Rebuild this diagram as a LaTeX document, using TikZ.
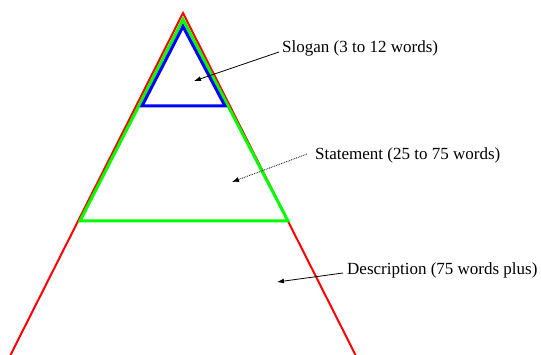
\documentclass[tikz,border=0pt]{standalone}
\usepackage{fontspec}
\setmainfont{Liberation Serif}
\usetikzlibrary{arrows.meta}
\begin{document}
\begin{tikzpicture}[x=1pt,y=-1pt,
  lbl/.style={anchor=west,inner sep=0pt,font=\fontsize{17}{20}\selectfont},
  ptr/.style={-{Latex[length=7pt,width=5pt]},black,line width=0.8pt}]
\useasboundingbox (0,0) rectangle (541,355);
\begin{scope}
\clip (0,0) rectangle (541,355);
\draw[red,line width=2pt] (10,356) -- (183,13) -- (356,356);
\end{scope}
\draw[green,line width=3pt,line join=miter] (80,221) -- (183,19.5) -- (288,221) -- cycle;
\draw[blue,line width=3pt,line join=miter] (142,106) -- (183,26.5) -- (225,106) -- cycle;
\node[lbl] (slogan) at (282,48) {Slogan (3 to 12 words)};
\node[lbl] (statement) at (315,155) {Statement (25 to 75 words)};
\node[lbl] (description) at (347,270) {Description (75 words plus)};
\coordinate (sT) at (194,81);
\coordinate (stT) at (232,182);
\coordinate (dT) at (277,282);
\draw[ptr] (slogan.west) ++(-3,4) -- (sT);
\draw[ptr,densely dotted] (statement.west) ++(-8,-1) -- (stT);
\draw[ptr] (description.west) ++(-4,3) -- (dT);
\end{tikzpicture}
\end{document}
